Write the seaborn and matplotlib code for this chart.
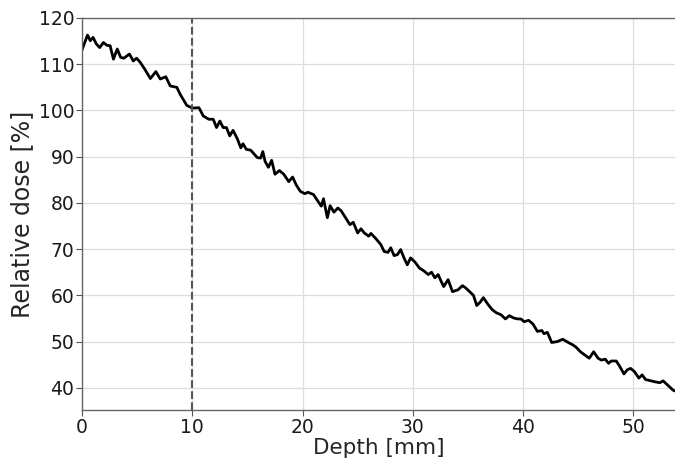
import numpy as np
import pandas as pd
import matplotlib
matplotlib.use("Agg")
import matplotlib.pyplot as plt
import seaborn as sns

depth = [0.0, 0.5, 0.75, 1.0, 1.3, 1.6, 1.95, 2.25, 2.55, 2.85, 3.2, 3.5, 3.8, 4.3, 4.65, 4.95,
         5.25, 5.7, 6.2, 6.7, 7.1, 7.6, 8.0, 8.6, 8.9, 9.5,
         10.0, 10.6, 11.0, 11.5, 11.9, 12.2, 12.5, 12.8, 13.1, 13.4, 13.7, 14.1, 14.4, 14.6,
         14.9, 15.3, 15.9, 16.2, 16.4, 16.6, 16.9, 17.2, 17.5, 17.9, 18.3, 18.75, 19.1, 19.4,
         19.8, 20.2, 20.5, 21.0, 21.3, 21.7, 21.9, 22.25, 22.5, 22.85, 23.2, 23.5, 23.9, 24.3,
         24.6, 25.0, 25.3, 25.6, 26.0, 26.2, 26.6, 27.1, 27.4, 27.75, 28.0, 28.3, 28.6, 28.9,
         29.2, 29.5,
         29.8, 30.2, 30.6, 31.0, 31.4, 31.7, 32.0, 32.3, 32.5, 32.8, 33.2, 33.6, 34.1, 34.5,
         34.8, 35.2, 35.5, 35.8, 36.1, 36.4, 36.8, 37.2, 37.6, 38.0, 38.4, 38.75, 39.15, 39.5,
         39.8, 40.1, 40.5, 40.9, 41.3, 41.7, 41.9, 42.2, 42.6, 43.1, 43.6, 44.1, 44.5, 44.8,
         45.2, 45.6, 46.0, 46.4, 46.8,
         47.1, 47.45, 47.75, 48.0, 48.45, 48.75, 49.15, 49.45, 49.75, 50.1, 50.5, 50.8, 51.1,
         51.6, 51.95, 52.4, 52.7, 53.1, 53.6, 53.9]

dose = [113.1, 116.3, 115.1, 115.8, 114.4, 113.6, 114.7, 114.1, 114.0, 111.1, 113.3, 111.5,
        111.3, 112.2, 110.7, 111.3, 110.5, 108.9, 106.9, 108.4, 106.8, 107.3, 105.3, 105.0,
        103.5, 101.1,
        100.5, 100.6, 98.8, 98.1, 98.1, 96.3, 97.7, 96.3, 96.3, 94.5, 95.7, 93.8, 91.9, 92.8,
        91.6, 91.4, 89.8, 89.7, 91.1, 89.0, 87.7, 89.2, 86.2, 87.0, 86.2, 84.6, 85.6, 84.0,
        82.5, 82.0, 82.3, 81.8, 80.7, 79.3, 80.9, 76.8, 79.4, 78.0, 78.9, 78.3, 76.8, 75.3,
        75.8, 73.5, 74.4, 73.5, 72.8, 73.4, 72.4, 71.0, 69.5, 69.3, 70.3, 68.6, 68.8, 69.9,
        68.1, 66.6,
        68.1, 67.2, 65.9, 65.3, 64.5, 65.0, 63.8, 64.5, 63.4, 61.9, 63.4, 60.8, 61.2, 62.1,
        61.6, 60.7, 60.0, 57.8, 58.5, 59.5, 58.1, 56.9, 56.2, 55.8, 54.9, 55.6, 55.1, 54.9,
        54.9, 54.3, 54.6, 53.8, 52.2, 52.4, 51.7, 52.0, 49.8, 50.0, 50.5, 49.8, 49.3, 48.8,
        47.8, 47.1, 46.4, 47.8, 46.4,
        46.0, 46.2, 45.3, 45.8, 45.8, 44.7, 43.0, 43.9, 44.2, 43.5, 42.1, 42.8, 41.8,
        41.5, 41.3, 41.1, 41.5, 40.6, 39.5, 39.2]

marker_depth = 10
x_ticks = [0, 10, 20, 30, 40, 50]
y_ticks = [40, 50, 60, 70, 80, 90, 100, 110, 120]

df = pd.DataFrame({"Depth": depth, "Dose": dose})

sns.set_theme(style="whitegrid")
plt.rcParams['font.family'] = ['DejaVu Sans']

fig = plt.figure(figsize=(6.75, 4.61), dpi=100)
ax = fig.add_axes([82 / 675, 51 / 461, (675 - 82) / 675 + 0.002, 392 / 461])

sns.lineplot(data=df, x="Depth", y="Dose", color="black", linewidth=2.0, ax=ax)
ax.axvline(marker_depth, color="#555555", linestyle="--", linewidth=1.5)

ax.set_xlim(0, 53.9)
ax.set_ylim(35.2, 120)
ax.set_xticks(x_ticks)
ax.set_yticks(y_ticks)
ax.set_xlabel("Depth [mm]", fontsize=15.5, labelpad=1)
ax.set_ylabel("Relative dose [%]", fontsize=17, labelpad=3)
ax.tick_params(axis="both", labelsize=13.5, length=4, width=0.8, color="#555555",
               left=True, bottom=True, pad=1.5, labelcolor="#1a1a1a")
ax.grid(True, color="#dddddd", linewidth=0.9)
for s in ax.spines.values():
    s.set_color("#666666")
    s.set_linewidth(1.0)

fig.savefig("out.png", dpi=100)
